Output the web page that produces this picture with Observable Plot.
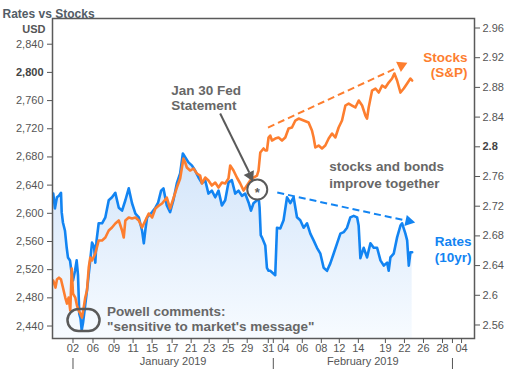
<!DOCTYPE html>
<html><head><meta charset="utf-8">
<script src="https://cdn.jsdelivr.net/npm/d3@7"></script>
<script src="https://cdn.jsdelivr.net/npm/@observablehq/plot@0.6"></script>
<style>
html,body{margin:0;padding:0;background:#fff;}
#chart svg{display:block;}
</style>
</head><body><div id="chart"></div>
<script>
// x unit: trading-day position (0 = Jan 02)
const rateDay = [-2.04,-1.87,-1.66,-1.45,-1.24,-1.17,-1.04,-0.83,-0.65,-0.52,
-0.31,-0.13,0,0.21,0.38,0.52,0.65,0.78,0.90,1.04,
1.24,1.48,1.76,1.97,2.18,2.31,2.44,2.66,3.01,3.35,
3.70,4.04,4.38,4.74,5.08,5.42,5.77,6.11,6.46,6.81,
7.15,7.33,7.51,7.67,8.19,8.53,8.81,9.12,9.36,9.71,
10.05,10.39,10.75,11.09,11.37,11.61,11.95,12.30,12.64,12.98,
13.34,13.68,14.02,14.37,14.72,15.06,15.41,15.75,16.09,16.44,
16.79,17.13,17.48,17.82,18.17,18.42,18.68,19.04,19.20,19.31,
19.43,19.59,19.90,20.07,20.24,20.41,20.76,20.93,21.11,21.45,
21.79,22.15,22.49,22.83,23.18,23.52,23.87,24.22,24.56,24.90,
25.25,25.60,25.94,26.29,26.63,26.97,27.33,27.67,28.01,28.36,
28.70,29.05,29.40,29.56,29.74,30.08,30.43,30.78,31.12,31.47,
31.82,32.16,32.51,32.67,32.85,33.19,33.54,33.89,34.06,34.40,
34.58,34.75,34.92,35.10];
const rateValue = [2.737,2.717,2.732,2.734,2.738,2.712,2.698,2.687,2.664,2.651,
2.647,2.629,2.620,2.633,2.647,2.627,2.575,2.569,2.553,2.563,
2.584,2.610,2.644,2.671,2.666,2.644,2.674,2.697,2.697,2.705,
2.728,2.732,2.738,2.718,2.714,2.728,2.744,2.724,2.710,2.705,
2.687,2.670,2.690,2.705,2.712,2.718,2.725,2.741,2.744,2.721,
2.712,2.728,2.751,2.764,2.791,2.786,2.779,2.775,2.768,2.759,
2.751,2.755,2.737,2.741,2.732,2.741,2.721,2.728,2.752,2.755,
2.737,2.741,2.734,2.737,2.725,2.714,2.724,2.728,2.734,2.718,
2.681,2.677,2.667,2.637,2.633,2.633,2.629,2.627,2.691,2.690,
2.701,2.732,2.724,2.732,2.705,2.701,2.691,2.697,2.683,2.674,
2.664,2.656,2.637,2.633,2.643,2.656,2.670,2.683,2.685,2.691,
2.705,2.707,2.705,2.694,2.650,2.664,2.651,2.670,2.664,2.664,
2.647,2.640,2.644,2.633,2.651,2.656,2.678,2.694,2.697,2.683,
2.674,2.640,2.658,2.658];

const stockDay = [-2.04,-1.81,-1.66,-1.45,-1.24,-1.04,-0.80,-0.62,-0.45,-0.28,
-0.13,0,0.24,0.41,0.59,0.76,0.93,1.11,1.27,1.45,
1.63,1.79,1.97,2.31,2.66,3.01,3.35,3.70,4.04,4.38,
4.74,5.08,5.25,5.42,5.77,6.11,6.46,6.81,7.15,7.49,
7.84,8.19,8.53,8.88,9.22,9.71,10.05,10.39,10.75,11.09,
11.43,11.61,11.78,12.12,12.47,12.82,13.16,13.34,13.68,14.02,
14.37,14.72,15.06,15.41,15.75,16.09,16.27,16.61,16.96,17.31,
17.65,18.00,18.34,18.68,19.04,19.20,19.38,19.55,19.72,19.90,
20.07,20.24,20.41,20.59,20.93,21.27,21.63,21.97,22.31,22.66,
23.01,23.35,23.87,24.38,24.73,24.90,25.08,25.42,25.77,26.11,
26.46,26.81,27.15,27.49,27.84,28.19,28.53,28.88,29.22,29.57,
29.92,30.26,30.43,30.60,30.95,31.30,31.64,31.99,32.33,32.67,
33.02,33.26,33.54,33.89,34.23,34.58,34.92,35.10];
const stockValue = [2504.6,2494.6,2506.0,2508.8,2506.0,2494.6,2480.4,2471.9,2480.4,2462.0,
2521.6,2486.1,2480.4,2469.1,2462.0,2457.7,2452.1,2466.3,2480.4,2490.4,
2523.0,2537.2,2533.0,2542.9,2561.4,2561.4,2565.6,2575.6,2579.8,2585.5,
2589.8,2575.6,2565.6,2589.8,2594.0,2592.6,2594.0,2589.8,2579.8,2589.8,
2599.7,2594.0,2606.8,2611.0,2613.9,2622.4,2606.8,2621.0,2636.6,2649.4,
2677.8,2672.1,2665.0,2660.7,2663.6,2656.5,2653.6,2642.3,2650.8,2646.5,
2639.4,2643.7,2636.6,2643.7,2642.3,2649.4,2667.8,2660.7,2650.8,2642.3,
2632.3,2639.4,2646.5,2650.8,2653.6,2660.7,2686.3,2689.1,2692.0,2689.1,
2689.1,2707.6,2710.4,2703.3,2706.1,2707.6,2703.3,2707.6,2720.3,2721.8,
2731.7,2734.5,2731.7,2728.9,2717.5,2707.6,2693.4,2696.2,2692.0,2696.2,
2706.1,2713.2,2707.6,2721.8,2731.7,2753.0,2755.8,2753.0,2750.2,2760.1,
2753.0,2738.8,2734.5,2750.2,2774.3,2777.1,2771.4,2781.4,2778.5,2785.6,
2791.3,2798.4,2788.5,2771.4,2777.1,2784.2,2791.3,2788.5];

const stockTicks = [2440,2480,2520,2560,2600,2640,2680,2720,2760,2800,2840];
const stockBoldTick = [2800];
const rateTicks = [2.56,2.6,2.64,2.68,2.72,2.76,2.8,2.84,2.88,2.92,2.96];
const rateBoldTick = [2.8];
const dayTicks = [0,2.07,4.25,6.22,8.19,10.26,12.23,14.09,16.06,18.03,20.21,21.76,23.73,25.70,27.56,29.53,32.33,34.30,36.27,38.24,40.21];
const dayTickLabels = ["02","06","09","11","15","17","21","23","25","29","31","04","06","08","12","14","19","22","26","28","04"];
const monthStarts = [0,20.73,39.27];
const monthLabels = ["January 2019","February 2019"];

const dayDomain = [-2.12, 41.55];
const stockDomain = [2422.3, 2876.5];
const rateDomain = [2.5418, 2.9728];

// annotations (data units)
const fedLabel = {x: 10.16, y: 2763.6, text: "Jan 30 Fed\nStatement"};
const fedArrow = {x1: 15.23, y1: 2741.6, x2: 18.24, y2: 2657.9, hx: 18.34, hy: 2653.6};
const fedCircle = {x: 19.07, y: 2633.7};
const powellBox = {x1: -0.52, x2: 2.80, y1: 2432.2, y2: 2463.4};
const powellLabel = {x: 3.52, y: 2449.9, text: "Powell comments:\n\"sensitive to market's message\""};
const togetherLabel = {x: 26.53, y: 2655.7, text: "stocks and bonds\nimprove together"};
const stocksLabel = {x: 40.83, y: 2811.3, text: "Stocks\n(S&P)"};
const ratesLabel = {x: 41.24, r: 2.663, text: "Rates\n(10yr)"};
const stocksArrow = {x1: 20.18, y1: 2721.7, x2: 33.58, y2: 2806.9, hx: 33.99, hy: 2809.9};
const ratesArrow = {x1: 21.14, r1: 2.7384, x2: 34.30, r2: 2.7010, hx: 34.75, hr: 2.6998};

const orange = "#fd7e2f";
const blue = "#1284f2";
const gray = "#5a5a5a";
const annGray = "#676767";

const toStock = r => stockDomain[0] + (r - rateDomain[0]) * (stockDomain[1] - stockDomain[0]) / (rateDomain[1] - rateDomain[0]);
const toRate = s => rateDomain[0] + (s - stockDomain[0]) * (rateDomain[1] - rateDomain[0]) / (stockDomain[1] - stockDomain[0]);

const rates = rateDay.map((d, i) => ({day: d, s: toStock(rateValue[i])}));
const stocks = stockDay.map((d, i) => ({day: d, s: stockValue[i]}));

const defs = () => {
  const g = d3.create("svg:defs");
  const lg = g.append("linearGradient").attr("id", "rateGrad").attr("x1", 0).attr("x2", 0).attr("y1", 0).attr("y2", 1);
  lg.append("stop").attr("offset", "0%").attr("stop-color", "#d3e5fa");
  lg.append("stop").attr("offset", "100%").attr("stop-color", "#f7fbff");
  return g.node();
};

const fmtRate = d => String(+toRate(d).toFixed(2));
const fmtStock = d3.format(",");

const chart = Plot.plot({
  width: 508, height: 369,
  marginTop: 18, marginLeft: 52, marginRight: 34, marginBottom: 31,
  x: {domain: dayDomain, label: null},
  y: {domain: stockDomain, label: null},
  style: {fontFamily: "'Liberation Sans', Arial, sans-serif", fontSize: "11px", color: "#555", background: "#fff"},
  marks: [
    defs,
    Plot.areaY(rates, {x: "day", y1: stockDomain[0], y2: "s", fill: "url(#rateGrad)"}),
    Plot.line(rates, {x: "day", y: "s", stroke: blue, strokeWidth: 2.6}),
    Plot.line(stocks, {x: "day", y: "s", stroke: orange, strokeWidth: 2.6}),
    Plot.frame({stroke: gray, strokeWidth: 1.5}),
    // axes
    Plot.axisY(stockTicks.filter(d => !stockBoldTick.includes(d)), {anchor: "left", tickSize: 5, tickPadding: 4, tickFormat: fmtStock}),
    Plot.axisY(stockBoldTick, {anchor: "left", tickSize: 5, tickPadding: 4, tickFormat: fmtStock, fontWeight: "bold", fill: "#444"}),
    Plot.axisY(rateTicks.filter(d => !rateBoldTick.includes(d)).map(toStock), {anchor: "right", tickSize: 5, tickPadding: 3, tickFormat: fmtRate}),
    Plot.axisY(rateBoldTick.map(toStock), {anchor: "right", tickSize: 5, tickPadding: 3, tickFormat: fmtRate, fontWeight: "bold", fill: "#444"}),
    Plot.axisX(dayTicks, {anchor: "bottom", tickSize: 5, tickPadding: 1, tickFormat: d => dayTickLabels[dayTicks.indexOf(d)]}),
    Plot.axisX(monthStarts.slice(1), {anchor: "bottom", tickSize: 5, tickFormat: () => ""}),
    Plot.axisX(monthStarts, {anchor: "bottom", tickSize: 11, dy: 20, tickFormat: () => ""}),
    Plot.text(monthLabels, {x: (d, i) => (monthStarts[i] + monthStarts[i + 1]) / 2, frameAnchor: "bottom", dy: 26, fontSize: 11}),
    Plot.text(["USD"], {frameAnchor: "top-left", dx: -7, dy: 7, textAnchor: "end", fontWeight: "bold", fontSize: 11, fill: "#555"}),
    Plot.text(["Rates vs Stocks"], {frameAnchor: "top-left", dx: -50, dy: -9, textAnchor: "start", fontWeight: "bold", fontSize: 12, fill: "#525c66"}),
    // dashed trend arrows
    Plot.link([stocksArrow], {x1: "x1", y1: "y1", x2: "x2", y2: "y2", stroke: orange, strokeWidth: 2, strokeDasharray: "7,4"}),
    Plot.dot([stocksArrow], {x: "hx", y: "hy", symbol: "triangle", r: 4.2, fill: orange, rotate: 65}),
    Plot.link([ratesArrow], {x1: "x1", y1: d => toStock(d.r1), x2: "x2", y2: d => toStock(d.r2), stroke: blue, strokeWidth: 2, strokeDasharray: "7,4"}),
    Plot.dot([ratesArrow], {x: "hx", y: d => toStock(d.hr), symbol: "triangle", r: 4.2, fill: blue, rotate: 102.4}),
    // Fed annotation
    Plot.link([fedArrow], {x1: "x1", y1: "y1", x2: "x2", y2: "y2", stroke: gray, strokeWidth: 2}),
    Plot.dot([fedArrow], {x: "hx", y: "hy", symbol: "triangle", r: 4.2, fill: gray, rotate: 154.2}),
    Plot.dot([fedCircle], {x: "x", y: "y", r: 10, stroke: gray, strokeWidth: 2, fill: "#fff"}),
    Plot.text([fedCircle], {x: "x", y: "y", text: () => "*", fontSize: 13, dy: 3, fill: gray, fontWeight: "bold"}),
    Plot.text([fedLabel], {x: "x", y: "y", text: "text", textAnchor: "start", fontWeight: "bold", fontSize: 13.5, lineHeight: 1.11, fill: annGray}),
    // Powell annotation
    Plot.rect([powellBox], {x1: "x1", x2: "x2", y1: "y1", y2: "y2", rx: 11, stroke: gray, strokeWidth: 2.5, fill: "none"}),
    Plot.text([powellLabel], {x: "x", y: "y", text: "text", textAnchor: "start", fontWeight: "bold", fontSize: 13.5, lineHeight: 1.11, fill: annGray}),
    Plot.text([togetherLabel], {x: "x", y: "y", text: "text", textAnchor: "start", fontWeight: "bold", fontSize: 13.5, lineHeight: 1.22, fill: annGray}),
    Plot.text([stocksLabel], {x: "x", y: "y", text: "text", textAnchor: "end", fontWeight: "bold", fontSize: 13.5, lineHeight: 1.16, fill: orange}),
    Plot.text([ratesLabel], {x: "x", y: d => toStock(d.r), text: "text", textAnchor: "end", fontWeight: "bold", fontSize: 13.5, lineHeight: 1.18, fill: blue})
  ]
});
document.getElementById("chart").appendChild(chart);
</script>
</body></html>
